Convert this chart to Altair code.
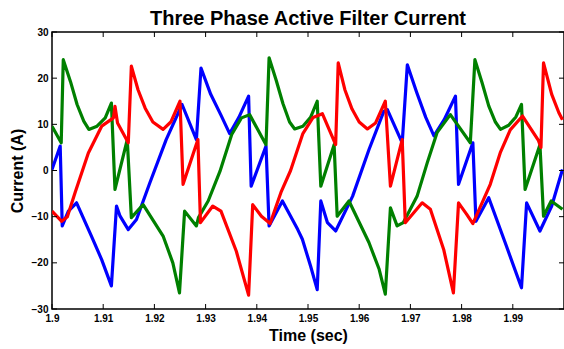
import altair as alt
import pandas as pd

# ---- data (time in s, current in A) ----
t_blue = [1.9000, 1.9016, 1.9020, 1.9032, 1.9048, 1.9077, 1.9097, 1.9116, 1.9126, 1.9133,
          1.9149, 1.9165, 1.9191, 1.9223, 1.9254, 1.9282, 1.9291, 1.9310, 1.9330, 1.9347,
          1.9365, 1.9384, 1.9389, 1.9418, 1.9424, 1.9450, 1.9480, 1.9489, 1.9505, 1.9518,
          1.9525, 1.9538, 1.9554, 1.9587, 1.9619, 1.9648, 1.9655, 1.9684, 1.9694, 1.9712,
          1.9730, 1.9746, 1.9766, 1.9788, 1.9794, 1.9822, 1.9828, 1.9853, 1.9885, 1.9917,
          1.9927, 1.9953, 1.9976, 1.9997]
i_blue = [0.2, 5.3, -12.0, -8.8, -7.0, -14.2, -19.3, -25.0, -7.7, -9.9,
          -12.8, -10.6, -2.7, 6.7, 14.3, 6.7, 22.2, 16.5, 12.0, 8.0,
          11.5, 16.1, -3.4, 5.3, -12.0, -6.6, -12.8, -14.9, -20.7, -25.8,
          -6.6, -11.3, -13.1, -5.6, 4.5, 12.8, 13.2, 6.0, 22.9, 17.0,
          11.5, 7.5, 11.0, 16.1, -3.0, 6.0, -11.0, -5.9, -15.6, -25.4,
          -7.0, -13.1, -7.7, 0.2]

t_green = [1.9000, 1.9018, 1.9022, 1.9036, 1.9049, 1.9062, 1.9072, 1.9088, 1.9104, 1.9116,
           1.9123, 1.9147, 1.9155, 1.9178, 1.9217, 1.9236, 1.9249, 1.9259, 1.9282, 1.9286,
           1.9305, 1.9328, 1.9351, 1.9370, 1.9386, 1.9418, 1.9424, 1.9438, 1.9451, 1.9464,
           1.9474, 1.9490, 1.9505, 1.9518, 1.9525, 1.9551, 1.9557, 1.9580, 1.9619, 1.9639,
           1.9651, 1.9661, 1.9674, 1.9686, 1.9713, 1.9733, 1.9752, 1.9778, 1.9817, 1.9826,
           1.9840, 1.9853, 1.9866, 1.9876, 1.9892, 1.9906, 1.9917, 1.9924, 1.9953, 1.9960,
           1.9975, 1.9997]
i_green = [9.6, 6.0, 24.0, 19.3, 14.3, 10.7, 8.9, 9.6, 11.4, 14.6,
           -4.1, 6.7, -10.2, -7.4, -14.2, -20.0, -26.5, -8.8, -12.0, -10.2,
           -6.6, -0.2, 7.8, 11.4, 12.1, 5.6, 24.4, 19.5, 14.5, 10.5,
           9.0, 9.6, 11.5, 15.0, -3.4, 5.6, -9.9, -6.6, -15.6, -21.4,
           -26.8, -8.1, -12.0, -11.3, -5.6, 1.7, 8.2, 12.1, 6.0, 24.0,
           19.0, 14.0, 10.5, 8.9, 9.8, 11.6, 14.3, -4.1, 5.6, -9.9,
           -6.6, -8.4]

t_red = [1.9000, 1.9019, 1.9030, 1.9045, 1.9071, 1.9097, 1.9120, 1.9123, 1.9128, 1.9149,
         1.9155, 1.9168, 1.9182, 1.9197, 1.9217, 1.9232, 1.9250, 1.9256, 1.9285, 1.9290,
         1.9314, 1.9330, 1.9360, 1.9384, 1.9392, 1.9409, 1.9426, 1.9448, 1.9466, 1.9490,
         1.9510, 1.9528, 1.9554, 1.9559, 1.9572, 1.9586, 1.9600, 1.9616, 1.9632, 1.9651,
         1.9661, 1.9684, 1.9690, 1.9723, 1.9739, 1.9765, 1.9784, 1.9794, 1.9810, 1.9822,
         1.9856, 1.9876, 1.9895, 1.9919, 1.9950, 1.9955, 1.9960, 1.9976, 1.9990, 1.9997]
i_red = [-8.8, -11.0, -10.0, -4.8, 3.8, 9.6, 11.4, 13.9, 10.3, 6.0,
         22.6, 17.5, 13.5, 10.5, 8.9, 10.5, 15.0, -3.0, 6.7, -11.3,
         -7.7, -8.8, -17.5, -27.0, -7.4, -9.9, -11.5, -4.5, 0.0, 8.0,
         11.5, 12.3, 5.6, 23.3, 17.5, 13.3, 10.5, 9.0, 10.3, 15.0,
         -3.4, 6.7, -11.3, -7.0, -8.4, -17.1, -26.5, -7.0, -9.5, -11.5,
         -3.0, 4.0, 8.8, 11.8, 6.5, 5.0, 23.3, 16.5, 12.5, 11.0]

x_ticks = [1.9, 1.91, 1.92, 1.93, 1.94, 1.95, 1.96, 1.97, 1.98, 1.99]
y_ticks = [-30, -20, -10, 0, 10, 20, 30]

phases = ["A", "B", "C"]
colors = ["#0000ff", "#008000", "#ff0000"]
title_text = "Three Phase Active Filter Current"

W, H = 512, 277
FONT = "Liberation Sans"

rows = []
for name, ts, vs in (("A", t_blue, i_blue), ("B", t_green, i_green), ("C", t_red, i_red)):
    for k, (t, v) in enumerate(zip(ts, vs)):
        rows.append({"phase": name, "order": k, "t": t, "i": v})
df = pd.DataFrame(rows)

xscale = alt.Scale(domain=[1.9, 2.0], nice=False, zero=False)
yscale = alt.Scale(domain=[-30, 30], nice=False, zero=False)

lines = alt.Chart(df).mark_line(strokeWidth=3.2, clip=True, strokeJoin="round").encode(
    x=alt.X("t:Q", scale=xscale, title="Time (sec)",
            axis=alt.Axis(values=x_ticks, format="~g", ticks=False, tickSize=0,
                          domain=False, grid=False, labelPadding=4, titlePadding=4,
                          labelFlush=False)),
    y=alt.Y("i:Q", scale=yscale, title="Current (A)",
            axis=alt.Axis(values=y_ticks, format="d", ticks=False, tickSize=0,
                          domain=False, grid=False, labelPadding=4, titlePadding=6)),
    color=alt.Color("phase:N", scale=alt.Scale(domain=phases, range=colors), legend=None),
    order="order:Q",
)

xt = pd.DataFrame({"t": x_ticks})
yt = pd.DataFrame({"v": y_ticks})

top_ticks = alt.Chart(xt).mark_rule(color="black", strokeWidth=1).encode(
    x=alt.X("t:Q", scale=xscale), y=alt.value(0), y2=alt.value(5))
bot_ticks = alt.Chart(xt).mark_rule(color="black", strokeWidth=1).encode(
    x=alt.X("t:Q", scale=xscale), y=alt.value(H - 5), y2=alt.value(H))
left_ticks = alt.Chart(yt).mark_rule(color="black", strokeWidth=1).encode(
    y=alt.Y("v:Q", scale=yscale), x=alt.value(0), x2=alt.value(5))
right_ticks = alt.Chart(yt).mark_rule(color="black", strokeWidth=1).encode(
    y=alt.Y("v:Q", scale=yscale), x=alt.value(W - 5), x2=alt.value(W))

title = alt.Chart(pd.DataFrame({"label": [title_text]})).mark_text(
    font=FONT, fontSize=20, fontWeight="bold", color="black",
    align="center", baseline="alphabetic",
).encode(text="label:N", x=alt.value(W / 2), y=alt.value(-7))

chart = alt.layer(lines, top_ticks, bot_ticks, left_ticks, right_ticks, title).properties(
    width=W, height=H,
    padding={"left": 52, "top": 32, "right": 0, "bottom": 40},
    autosize=alt.AutoSizeParams(type="none"),
    background="white",
).configure_view(stroke="black", strokeWidth=1.5).configure_axis(
    labelFont=FONT, labelFontSize=10, labelFontWeight="bold", labelColor="black",
    titleFont=FONT, titleFontSize=16, titleFontWeight="bold", titleColor="black",
)

chart.save("out.html", embed_options={"renderer": "svg", "actions": False})
